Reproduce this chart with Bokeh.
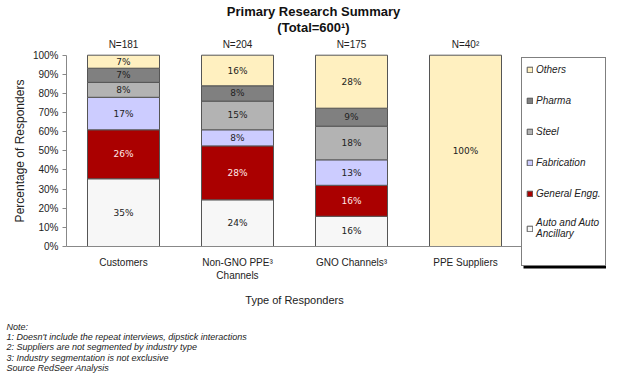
from bokeh.plotting import figure
from bokeh.models import (ColumnDataSource, Range1d, Label, Legend, BoxAnnotation,
                          LegendItem, NumeralTickFormatter, FixedTicker)
from bokeh.core.properties import value
from bokeh.embed import file_html
from bokeh.resources import INLINE

# ---- data ----
categories = ["Customers", "Non-GNO PPE³\nChannels", "GNO Channels³", "PPE Suppliers"]
n_labels = ["N=181", "N=204", "N=175", "N=40²"]
segments = ["Auto and Auto\nAncillary", "General Engg.", "Fabrication", "Steel", "Pharma", "Others"]
auto = [35.4, 24.4, 15.8, 0]
general = [25.6, 28.2, 16.2, 0]
fabrication = [17.0, 8.4, 13.3, 0]
steel = [7.8, 15.0, 17.6, 0]
pharma = [7.4, 8.0, 9.4, 0]
others = [6.8, 16.0, 27.7, 100]
y_ticks = [0, 10, 20, 30, 40, 50, 60, 70, 80, 90, 100]
notes = ["Note:",
         "1:  Doesn't include the repeat interviews, dipstick interactions",
         "2: Suppliers are not segmented by industry type",
         "3: Industry segmentation is not exclusive",
         "Source RedSeer Analysis"]

series = [auto, general, fabrication, steel, pharma, others]
colors = ["#F7F7F7", "#AA0000", "#CCCCFF", "#B3B3B3", "#808080", "#FFF0C0"]
label_colors = ["#222222", "#FFE8E8", "#222222", "#222222", "#222222", "#222222"]
keys = ["s%d" % i for i in range(len(series))]
FONT = "Liberation Sans"

# ---- layout (pixels) ----
W, H = 606, 375
X0, Y0 = 66, 246          # pixel position of the plot origin
CAT_W = 114.0             # pixels per category
PX_PER_UNIT = 191.3       # pixels per 100 %

def px_x(px):
    return (px - X0) / CAT_W

def px_y(py):
    return (Y0 - py) / PX_PER_UNIT

xs = [i + 0.5 for i in range(len(categories))]
data = {"x": xs}
for k, s in zip(keys, series):
    data[k] = [v / 100 for v in s]
src = ColumnDataSource(data)

p = figure(x_range=Range1d(px_x(0), px_x(W)), y_range=Range1d(px_y(H), px_y(0)),
           width=W, height=H, output_backend="svg", toolbar_location=None,
           min_border_left=0, min_border_right=0, min_border_top=0, min_border_bottom=0)
p.outline_line_color = None
p.xgrid.visible = False
p.ygrid.visible = False

rs = p.vbar_stack(keys, x="x", width=72 / CAT_W, source=src, color=colors,
                  line_color="#555555", line_width=1)

# segment labels
tx, ty, tt, tc = [], [], [], []
for ci in range(len(categories)):
    cum = 0.0
    for si, s in enumerate(series):
        v = s[ci]
        if v > 0:
            tx.append(xs[ci])
            ty.append((cum + v / 2) / 100)
            tt.append("%d%%" % round(v))
            tc.append(label_colors[si])
        cum += v
p.text(x=tx, y=ty, text=tt, text_color=tc, text_align="center", text_baseline="middle",
       text_font=value("DejaVu Sans"), text_font_size="9px")

# N labels above bars
p.text(x=xs, y=[px_y(44)] * len(xs), text=n_labels, text_color="#222222",
       text_align="center", text_baseline="middle",
       text_font=value(FONT), text_font_size="10px")

# title
for t, yy in [("Primary Research Summary", 11), ("(Total=600¹)", 27)]:
    p.add_layout(Label(x=px_x(313), y=px_y(yy), text=t,
                       text_font=FONT, text_font_size="13px", text_font_style="bold",
                       text_align="center", text_baseline="middle", text_color="#111111"))

# notes
for i, t in enumerate(notes):
    p.add_layout(Label(x=px_x(6), y=px_y(326 + i * 10.4), text=t,
                       text_font=FONT, text_font_size="9px", text_font_style="italic",
                       text_align="left", text_baseline="middle", text_color="#222222"))

# axes, fixed at the data origin
p.yaxis.fixed_location = 0
p.xaxis.fixed_location = 0
p.yaxis.ticker = FixedTicker(ticks=[t / 100 for t in y_ticks])
p.yaxis.formatter = NumeralTickFormatter(format="0%")
p.yaxis.bounds = (0, 1)
p.yaxis.axis_label = "Percentage of Responders"
p.yaxis.axis_label_text_font = FONT
p.yaxis.axis_label_text_font_size = "12px"
p.yaxis.axis_label_text_font_style = "normal"
p.yaxis.axis_label_text_color = "#222222"
p.yaxis.axis_label_standoff = 3
p.yaxis.major_label_text_font = FONT
p.yaxis.major_label_text_font_size = "10px"
p.yaxis.major_label_text_color = "#222222"
p.yaxis.major_tick_out = 4
p.yaxis.major_tick_in = 0
p.yaxis.minor_tick_out = 0
p.yaxis.minor_tick_in = 0
p.yaxis.major_label_standoff = 4
p.yaxis.axis_line_color = "#888888"
p.yaxis.major_tick_line_color = "#888888"

p.xaxis.ticker = FixedTicker(ticks=xs)
p.xaxis.major_label_overrides = {x: c for x, c in zip(xs, categories)}
p.xaxis.bounds = (0, len(categories))
p.xaxis.axis_label = "Type of Responders"
p.xaxis.axis_label_text_font = FONT
p.xaxis.axis_label_text_font_size = "11px"
p.xaxis.axis_label_text_font_style = "normal"
p.xaxis.axis_label_text_color = "#222222"
p.xaxis.axis_label_standoff = 10
p.xaxis.major_label_text_font = FONT
p.xaxis.major_label_text_font_size = "10px"
p.xaxis.major_label_text_color = "#222222"
p.xaxis.major_tick_out = 0
p.xaxis.major_tick_in = 0
p.xaxis.minor_tick_out = 0
p.xaxis.minor_tick_in = 0
p.xaxis.major_label_standoff = 10
p.xaxis.axis_line_color = "#888888"

# legend with a drop shadow
LEG_LEFT, LEG_TOP, LEG_RIGHT, LEG_BOTTOM = 521, 56, 603, 266
p.add_layout(BoxAnnotation(left=px_x(LEG_LEFT + 2), right=px_x(LEG_RIGHT + 3),
                           top=px_y(LEG_TOP + 2), bottom=px_y(LEG_BOTTOM + 2),
                           fill_color="black", fill_alpha=1.0, line_color=None))
order = list(range(len(segments)))[::-1]
items = [LegendItem(label=segments[i], renderers=[rs[i]]) for i in order]
legend = Legend(items=items, location=(LEG_LEFT, H - LEG_BOTTOM), orientation="vertical",
                glyph_width=7, glyph_height=7, label_height=14, spacing=17,
                label_standoff=3, padding=4, margin=0,
                label_text_font=FONT, label_text_font_size="10px",
                label_text_line_height=1.4,
                label_text_font_style="italic", label_text_color="#222222",
                title=" ", title_location="below", title_text_font_size="10px",
                title_standoff=11,
                border_line_color="black", border_line_width=1,
                background_fill_color="white", background_fill_alpha=1.0)
p.add_layout(legend, "center")

open("out.html", "w").write(file_html(p, INLINE))
